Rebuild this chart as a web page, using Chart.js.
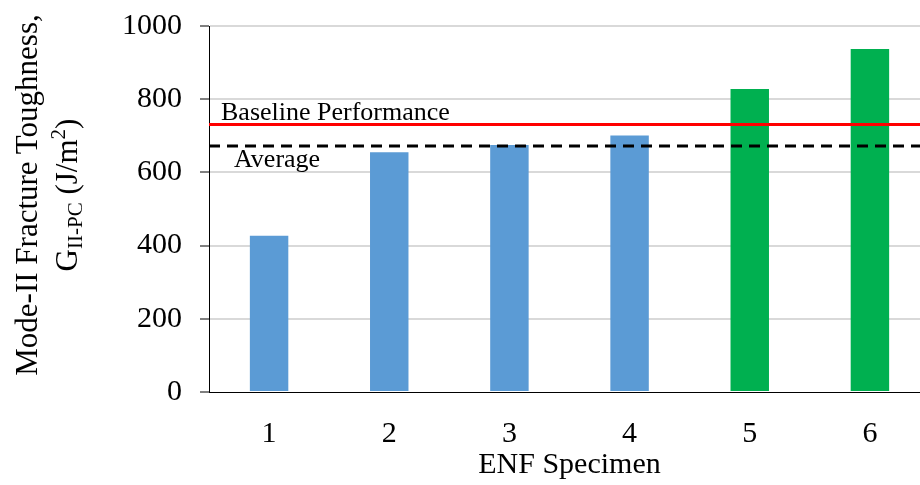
<!DOCTYPE html>
<html>
<head>
<meta charset="utf-8">
<script src="https://cdn.jsdelivr.net/npm/chart.js@4.4.1/dist/chart.umd.min.js"></script>
<style>
	html, body { margin: 0; padding: 0; background: #fff; overflow: hidden; }
	.wrap { position: relative; width: 920px; height: 485px; overflow: hidden; }
	.chart_box { position: absolute; left: 0; top: -10px; width: 930px; height: 495px; }
	.y_title {
		position: absolute; left: -163px; top: 155px; width: 420px; height: 80px;
		transform: rotate(-90deg);
		font-family: "Liberation Serif", "Times New Roman", serif;
		font-size: 31px; line-height: 40px; text-align: center; color: #000;
		white-space: nowrap;
	}
	.y_title sub, .y_title sup { font-size: 21px; line-height: 0; }
	.y_title sub { vertical-align: -5px; }
	.y_title sup { vertical-align: 12px; }
</style>
</head>
<body>
<div class="wrap">
	<div class="chart_box"><canvas class="bar_canvas" width="930" height="495"></canvas></div>
	<div class="y_title">Mode-II Fracture Toughness,<br>G<sub>II-PC</sub> (J/m<sup>2</sup>)</div>
</div>
<script>
const specimens = [ '1', '2', '3', '4', '5', '6' ];
const toughness = [ 427, 655, 675, 701, 828, 937 ];
const barColors = [ '#5B9BD5', '#5B9BD5', '#5B9BD5', '#5B9BD5', '#00B050', '#00B050' ];
const yTicks = [ 0, 200, 400, 600, 800, 1000 ];
const baselineValue = 731;
const averageValue = 672;

const refLines = {
	id : 'refLines',
	afterDatasetsDraw(chart) {
		const c = chart.ctx;
		const area = chart.chartArea;
		const y = chart.scales.y;
		const yb = y.getPixelForValue(baselineValue);
		const ya = y.getPixelForValue(averageValue);
		c.save();
		c.lineWidth = 3;
		c.strokeStyle = '#FF0000';
		c.beginPath();
		c.moveTo(area.left, yb);
		c.lineTo(area.right, yb);
		c.stroke();
		c.strokeStyle = '#000';
		c.setLineDash([ 11, 7 ]);
		c.beginPath();
		c.moveTo(area.left, ya);
		c.lineTo(area.right, ya);
		c.stroke();
		c.setLineDash([]);
		c.fillStyle = '#000';
		c.font = '26px "Liberation Serif"';
		c.textAlign = 'left';
		c.textBaseline = 'alphabetic';
		c.fillText('Baseline Performance', area.left + 12, yb - 4);
		c.fillText('Average', area.left + 25, ya + 21);
		c.restore();
	}
};

const ctx = document.querySelector('.bar_canvas');
const bar_canvas = new Chart(ctx, {
	type : 'bar',
	data : {
		labels : specimens,
		datasets : [ {
			data : toughness,
			backgroundColor : barColors,
			barPercentage : 0.32,
			categoryPercentage : 1
		} ]
	},
	options : {
		responsive : false,
		animation : false,
		layout : { padding : { top : 16, right : 0, left : 0, bottom : 0 } },
		plugins : { legend : { display : false }, tooltip : { enabled : false } },
		scales : {
			x : {
				grid : { display : false, drawTicks : false },
				border : { color : '#000', width : 1 },
				ticks : {
					color : '#000',
					padding : 24,
					font : { family : 'Liberation Serif', size : 30 }
				},
				title : {
					display : true,
					text : 'ENF Specimen',
					color : '#000',
					padding : { top : 0, bottom : 2 },
					font : { family : 'Liberation Serif', size : 30 }
				},
				afterFit(scale) { scale.height = 93; }
			},
			y : {
				min : 0,
				max : 1000,
				ticks : {
					stepSize : 100,
					color : '#000',
					padding : 18,
					font : { family : 'Liberation Serif', size : 30 },
					callback : function(v) { return yTicks.includes(v) ? v : ''; }
				},
				grid : {
					color : function(c) { return c.tick && c.tick.value % 200 === 0 && c.tick.value > 0 ? '#D9D9D9' : 'rgba(0,0,0,0)'; },
					lineWidth : 2,
					tickColor : '#000',
					tickLength : 9,
					tickWidth : 1
				},
				border : { color : '#000', width : 1 },
				afterFit(scale) { scale.width = 209; }
			}
		}
	},
	plugins : [ refLines ]
});
</script>
</body>
</html>
